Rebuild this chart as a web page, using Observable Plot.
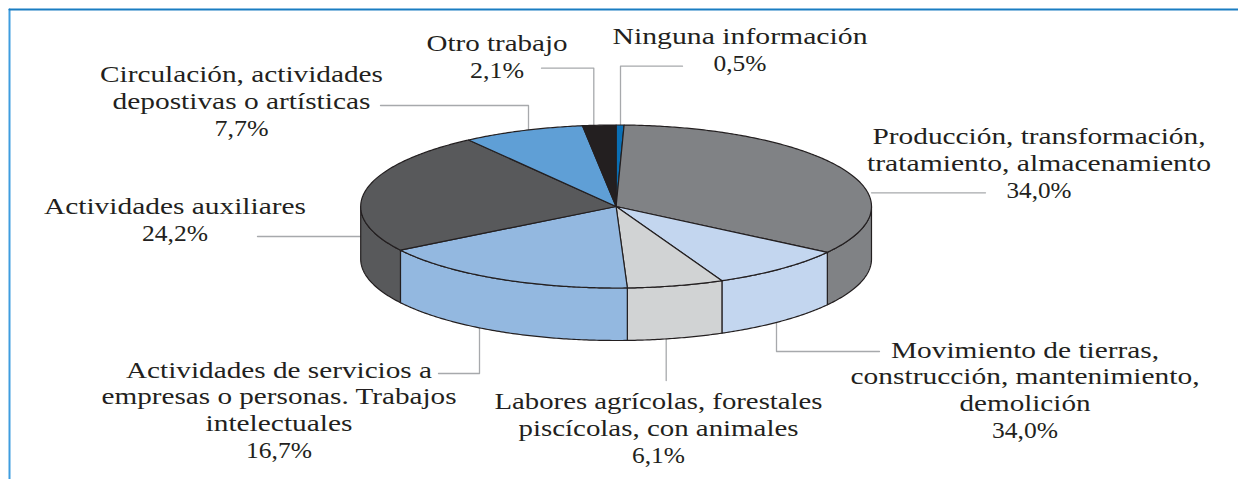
<!DOCTYPE html>
<html><head><meta charset="utf-8">
<style>html,body{margin:0;padding:0;background:#fff}svg{display:block}</style>
<script src="https://cdn.jsdelivr.net/npm/d3@7"></script>
<script src="https://cdn.jsdelivr.net/npm/@observablehq/plot@0.6"></script>
</head><body><script>
// Data, clockwise from 12 o'clock
const categories = ["Ninguna información","Producción","Movimiento de tierras","Labores agrícolas","Actividades de servicios","Actividades auxiliares","Circulación","Otro trabajo"];
const shares = [0.5, 34.0, 8.7, 6.1, 16.7, 24.2, 7.7, 2.1];
const labels = [
  "Ninguna información\n0,5%",
  "Producción, transformación,\ntratamiento, almacenamiento\n34,0%",
  "Movimiento de tierras,\nconstrucción, mantenimiento,\ndemolición\n34,0%",
  "Labores agrícolas, forestales\npiscícolas, con animales\n6,1%",
  "Actividades de servicios a\nempresas o personas. Trabajos\nintelectuales\n16,7%",
  "Actividades auxiliares\n24,2%",
  "Circulación, actividades\ndepostivas o artísticas\n7,7%",
  "Otro trabajo\n2,1%"
];
// Styling and layout (separate from the data)
const colors = ["#0a6fb5","#808285","#c3d6ef","#d1d3d4","#93b8e0","#58595b","#5f9fd6","#231f20"];
const labelX = [739.5, 1038.5, 1024.5, 658, 278.5, 174.5, 241, 496.5];
const labelBase = [70, 197, 437, 462, 457, 240.5, 135, 77];
const lineWidths = [
  [255,53], [333,344,65], [268,349,131,66], [328,280,53], [306,355,147,66], [262,66], [283,258,54], [141,54]
];
const leaders = [
  [[620,125],[620,65.7],[682,65.7]],
  [[871,192.3],[985,192.3]],
  [[776,322],[776,351],[879,351]],
  [[665.7,338],[665.7,380]],
  [[479,328],[479,373],[438,373]],
  [[360,236],[257,236]],
  [[528,130],[528,105],[380,105]],
  [[593.3,125],[593.3,67.7],[541,67.7]]
];
const cx = 615.6, cy = 206, rx = 255.4, ry = 81.5, depth = 52.5;
const fs = 24, lh = 26.6;

const total = d3.sum(shares);
const ends = d3.cumsum(shares);
const turn = s => s / total * 2 * Math.PI;
const px = a => cx + rx * Math.sin(a);
const py = a => cy - ry * Math.cos(a);
const arc = (a0, a1) => {
  const n = Math.max(2, Math.ceil((a1 - a0) / 0.01));
  return d3.range(n + 1).map(i => a0 + (a1 - a0) * i / n);
};
const slices = shares.map((s, i) => ({a0: turn(ends[i] - s), a1: turn(ends[i]), color: colors[i], name: categories[i]}));
const line = (pts, o) => Plot.line(pts, {x: d => d[0], y: d => d[1], ...o});
const edge = {stroke: "#231f20", strokeWidth: 1.2, strokeLinejoin: "round"};

const walls = slices.flatMap(s => {
  const a0 = Math.max(s.a0, Math.PI / 2), a1 = Math.min(s.a1, 3 * Math.PI / 2);
  if (a1 <= a0) return [];
  const as = arc(a0, a1);
  const pts = [...as.map(a => [px(a), py(a)]), ...as.slice().reverse().map(a => [px(a), py(a) + depth])];
  pts.push(pts[0]);
  return [line(pts, {fill: s.color, ...edge})];
});
const tops = slices.map(s => {
  const pts = [[cx, cy], ...arc(s.a0, s.a1).map(a => [px(a), py(a)]), [cx, cy]];
  return line(pts, {fill: s.color, ...edge});
});
const leaderMarks = leaders.map(l => line(l, {stroke: "#a7a9ac", strokeWidth: 1.3}));

const chart = Plot.plot({
  width: 1238, height: 479, margin: 0,
  x: {domain: [0, 1238], range: [0, 1238], axis: null},
  y: {domain: [0, 479], range: [0, 479], axis: null},
  style: {background: "#fff"},
  marks: [
    line([[9, 479],[9, 9]], {stroke: "#3f9ddf", strokeWidth: 2}),
    line([[9, 9],[1238, 9]], {stroke: "#1a7dc2", strokeWidth: 2}),
    ...leaderMarks,
    ...walls,
    ...tops,
    Plot.text(labels, {
      x: (d, i) => labelX[i], y: (d, i) => labelBase[i],
      text: d => d, lineAnchor: "bottom", textAnchor: "middle",
      lineHeight: lh / fs, fontSize: fs, fill: "#231f20",
      fontFamily: "'Liberation Serif', serif"
    })
  ]
});
d3.select(chart).selectAll("text").each(function(d, i) {
  d3.select(this).selectAll("tspan")
    .attr("textLength", (t, j) => lineWidths[i][j])
    .attr("lengthAdjust", "spacingAndGlyphs");
});
document.body.append(chart);
</script></body></html>
